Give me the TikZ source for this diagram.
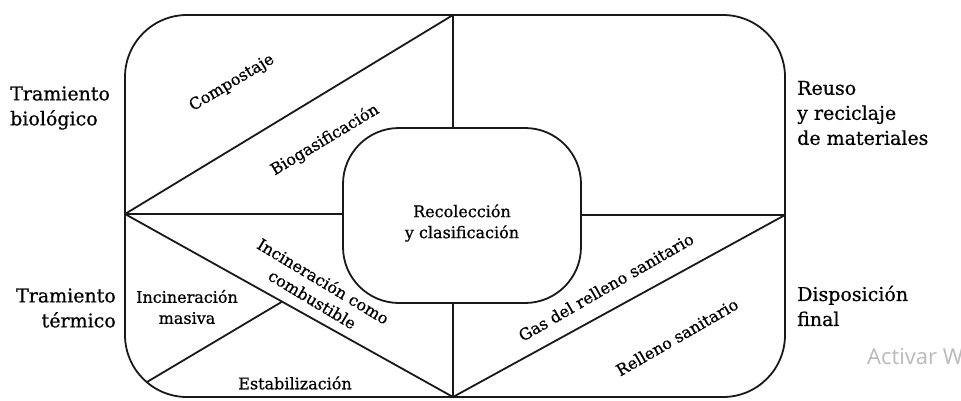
\documentclass[tikz,border=0pt]{standalone}
\usepackage{fontspec}
\setmainfont{DejaVu Serif}
\newfontfamily\txtfont[FakeBold=0.7]{DejaVu Serif}
\newfontfamily\uifont{Open Sans}
\usetikzlibrary{calc}
\begin{document}
\begin{tikzpicture}[x=1pt,y=-1pt,
  frame/.style={line width=1.8pt, draw=black!90, line join=round},
  side/.style={font=\txtfont\fontsize{19}{25}\selectfont, inner sep=0pt},
  area/.style={font=\txtfont\fontsize{16}{21}\selectfont, align=center, inner sep=0pt},
]
\useasboundingbox[fill=white] (0,0) rectangle (961,400);

% key points of the partition
\coordinate (TM) at (453,15);    % top middle
\coordinate (BM) at (453,397);   % bottom middle
\coordinate (LM) at (125,214);   % left middle
\coordinate (RM) at (785,215);   % right middle
\coordinate (CT) at (453,128);   % top of centre box
\coordinate (CB) at (453,303);   % bottom of centre box
\coordinate (CL) at (343,214);   % left of centre box
\coordinate (CR) at (581,215);   % right of centre box
\coordinate (ArcP) at (147,382); % point on lower-left corner arc

% outer frame and centre box
\draw[frame, rounded corners=62pt] (125,15) rectangle (785,397);
\draw[frame, rounded corners=56pt] (343,128) rectangle (581,303);

% dividing lines
\draw[frame] (TM) -- (CT);
\draw[frame] (CB) -- (BM);
\draw[frame] (LM) -- (CL);
\draw[frame] (CR) -- (RM);
\draw[frame] (LM) -- (TM);
\draw[frame] (LM) -- (BM);
\draw[frame] (BM) -- (RM);
\coordinate (D) at ($(LM)!0.479!(BM)$);
\draw[frame] (ArcP) -- (D);

% outside labels
\node[side, anchor=west, align=left] (bio) at (10,108) {Tramiento\\biológico};
\node[side, anchor=west, align=left] (reuso) at (797,113) {Reuso\\y reciclaje\\de materiales};
\node[side, anchor=east, align=right] (term) at (116,308) {Tramiento\\térmico};
\node[side, anchor=west, align=left] (disp) at (797,306) {Disposición\\final};

% region labels
\node[area] (rec) at (462,223) {Recolección\\y clasificación};
\node[area, rotate=31] (comp) at (232,83) {Compostaje};
\node[area, rotate=31] (biog) at (325,140) {Biogasificación};
\node[area, rotate=-31] (incc) at (318,290) {Incineración como\\combustible};
\node[area] (incm) at (187,307) {Incineración\\masiva};
\node[area] (estab) at (295,383) {Estabilización};
\node[area, rotate=30] (gas) at (606,287) {Gas del relleno sanitario};
\node[area, rotate=30] (rell) at (677,337) {Relleno sanitario};

% system watermark
\begin{scope}
\clip (0,0) rectangle (961,400);
\node[anchor=west, inner sep=0pt, text=black!27, font=\uifont\fontsize{22}{26}\selectfont] (wm) at (867,356) {Activar Windows};
\end{scope}
\end{tikzpicture}
\end{document}
